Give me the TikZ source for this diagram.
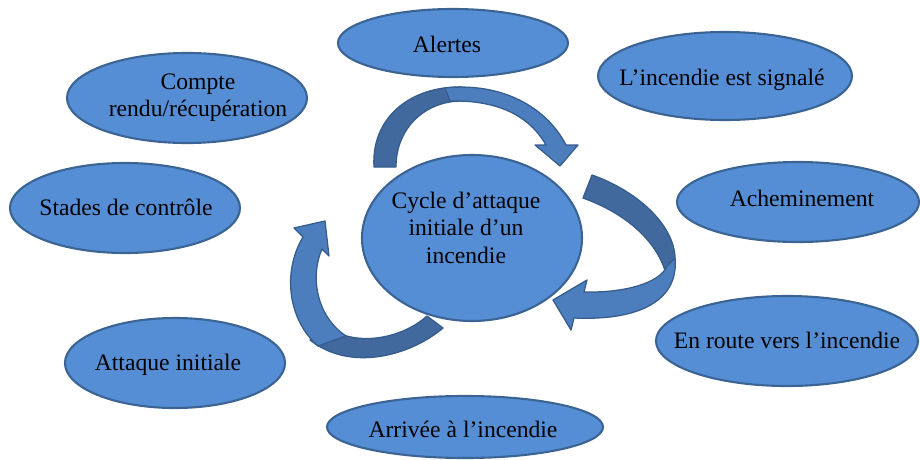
\documentclass[tikz,border=0pt]{standalone}
\usepackage{fontspec}
\setmainfont{Liberation Serif}
\usepackage{tikz}
\usetikzlibrary{shapes}
\definecolor{stagefill}{HTML}{558ED5}
\definecolor{stageline}{HTML}{3B6494}
\definecolor{arrowdark}{HTML}{41699D}
\definecolor{arrowlight}{HTML}{4C7EBE}
\definecolor{arrowline}{HTML}{355C8C}
\tikzstyle{bubble}=[fill=stagefill, draw=stageline, line width=1.5pt]
\tikzstyle{stagetext}=[align=center, inner sep=0pt, font=\fontsize{16.8}{19.5}\selectfont]
\tikzstyle{backband}=[fill=arrowdark, draw=arrowline, line width=0.9pt, line join=round]
\tikzstyle{frontband}=[fill=arrowlight, draw=arrowline, line width=0.9pt, line join=round]
\newcommand{\bubble}[6]{
	\draw[bubble] #1 ellipse [x radius=#2, y radius=#3];
	\node[stagetext] (#4) at #5 {#6};
}

\begin{document}
\begin{tikzpicture}[x=0.025cm,y=-0.025cm]
	\useasboundingbox (0,0) rectangle (920,460);
	% top arrow
	\draw[backband] (374,167) .. controls (371,118) and (410,86) .. (462,87) -- (462,101) .. controls (425,101) and (396,128) .. (396,167) -- cycle;
	\draw[frontband] (445,88) .. controls (500,82) and (546,106) .. (566,145) -- (578,145) -- (560,166) -- (535,145) -- (546,145) .. controls (530,117) and (500,100) .. (450,101) -- cycle;
	% right arrow
	\draw[backband] (592,175) .. controls (640,192) and (677,228) .. (675,262) -- (667,278) .. controls (660,245) and (630,215) .. (583,198) -- cycle;
	\draw[frontband] (675,258) .. controls (679,300) and (640,321) .. (574,318) -- (571,330) -- (553,300) -- (587,280) -- (584,292) .. controls (625,293) and (660,283) .. (667,266) -- cycle;
	% left arrow
	\draw[backband] (443,328) .. controls (410,356) and (350,372) .. (310,340) -- (336,332) .. controls (365,346) and (405,336) .. (427,316) -- cycle;
	\draw[frontband] (318,346) .. controls (288,320) and (282,272) .. (303,237) -- (294,228) -- (325,221) -- (329,256) -- (322,249) .. controls (310,276) and (316,316) .. (346,336) -- cycle;
	% stages
	\bubble{(472,238)}{110}{83}{cycle}{(466,227.5)}{Cycle d’attaque\\initiale d’un\\incendie}
	\bubble{(453,43)}{115}{34}{alertes}{(447,44)}{Alertes}
	\bubble{(725,76)}{127}{44}{signale}{(722,79.5)}{L’incendie est signalé}
	\bubble{(798,202)}{121}{40}{achem}{(802,198)}{Acheminement}
	\bubble{(787,341)}{131}{45}{route}{(787,340)}{En route vers l’incendie}
	\bubble{(465,427)}{138}{31}{arrivee}{(463,429)}{Arrivée à l’incendie}
	\bubble{(175,363)}{110}{45}{attaque}{(168,364.5)}{Attaque initiale}
	\bubble{(125,208)}{115}{45}{stades}{(126,207)}{Stades de contrôle}
	\bubble{(187,98)}{120}{45}{compte}{(198,97.5)}{Compte\\rendu/récupération}
\end{tikzpicture}
\end{document}
